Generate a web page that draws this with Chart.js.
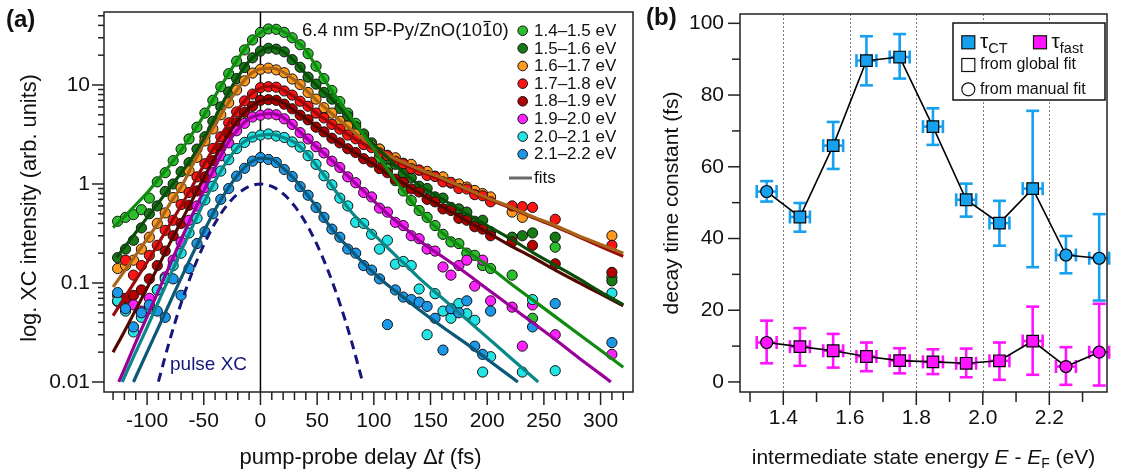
<!DOCTYPE html>
<html><head><meta charset="utf-8">
<script src="https://cdn.jsdelivr.net/npm/chart.js@4.4.1/dist/chart.umd.min.js"></script>
<style>
html,body{margin:0;padding:0;background:#fff;}
#wrap{position:relative;width:1121px;height:474px;overflow:hidden;background:#fff;}
canvas{position:absolute;top:0;}
#ca{left:0;} #cb{left:640px;}
</style></head><body>
<div id="wrap"><canvas id="ca" width="650" height="474"></canvas><canvas id="cb" width="481" height="474"></canvas></div>
<script>
// ================= PANEL (a) DATA =================
const delays = [-126,-119,-112,-105,-98,-91,-84,-77,-70,-63,-56,-49,-42,-35,-28,-21,-14,-7,0,7,14,21,28,35,42,49,56,63,70,77,84,91,98,105,112,119,126,133,140,147,154,161,168,175,182,189,196,203];
const lateDelays = [222,231,240,260,310];
const bandLabels = ['1.4\u20131.5 eV','1.5\u20131.6 eV','1.6\u20131.7 eV','1.7\u20131.8 eV','1.8\u20131.9 eV','1.9\u20132.0 eV','2.0\u20132.1 eV','2.1\u20132.2 eV'];

const data14 = [0.42,0.46,0.49,0.55,0.72,1.05,1.30,1.72,2.25,2.85,3.75,5.2,7.0,9.6,13.0,17.4,22.6,28.5,33.9,36.8,36.5,34.0,30.0,25.5,20.7,15.5,11.6,8.8,6.8,5.2,4.1,3.1,2.4,1.85,1.42,1.08,0.85,0.68,0.54,0.46,0.38,0.31,0.26,0.25,0.20,0.19,0.15,0.14];
const data15 = [0.18,0.22,0.27,0.36,0.50,0.60,0.84,1.0,1.33,1.64,2.25,3.0,4.3,6.0,8.5,11.6,15.0,18.8,22.0,23.5,23.0,21.6,18.0,15.1,12.0,10.2,8.4,7.2,5.8,4.85,3.8,3.2,2.6,2.25,1.80,1.58,1.28,1.15,0.95,0.90,0.74,0.72,0.58,0.56,0.52,0.42,0.43,0.33];
const data16 = [0.14,0.15,0.17,0.22,0.29,0.40,0.51,0.73,0.92,1.36,1.86,2.72,3.6,5.0,6.6,8.9,11.0,13.2,14.4,14.8,14.2,13.3,11.5,10.1,8.4,7.2,5.9,5.2,4.3,3.85,3.2,2.9,2.45,2.25,1.95,1.84,1.62,1.58,1.38,1.34,1.20,1.18,1.02,1.0,0.93,0.86,0.80,0.74];
const data17 = [0.075,0.17,0.12,0.15,0.19,0.24,0.34,0.43,0.62,0.82,1.18,1.60,2.28,3.0,4.15,5.35,6.9,8.1,9.4,9.6,9.5,8.7,7.9,6.85,6.1,5.2,4.65,4.0,3.58,3.12,2.86,2.5,2.33,2.06,1.93,1.70,1.60,1.43,1.38,1.22,1.19,1.05,1.04,0.90,0.89,0.78,0.76,0.66];
const data18 = [0.065,0.07,0.075,0.085,0.11,0.15,0.21,0.30,0.40,0.61,0.85,1.18,1.72,2.3,3.22,4.15,5.3,6.1,7.0,7.1,7.0,6.4,5.75,4.95,4.45,3.75,3.36,2.9,2.6,2.27,2.08,1.80,1.66,1.43,1.30,1.12,1.04,0.89,0.83,0.70,0.66,0.56,0.54,0.45,0.43,0.37,0.35,0.30];
const data19 = [null,0.055,0.06,0.052,0.07,0.085,0.115,0.17,0.26,0.43,0.60,0.92,1.30,1.93,2.6,3.45,4.1,4.75,4.95,5.1,5.0,4.55,4.0,3.3,2.85,2.38,2.06,1.70,1.47,1.18,1.03,0.82,0.74,0.57,0.52,0.41,0.38,0.30,0.28,0.22,0.21,0.145,0.12,0.15,0.17,0.093,0.17,0.066];
const data20 = [0.066,0.052,0.032,0.045,0.055,0.085,0.11,0.15,0.20,0.32,0.45,0.69,0.95,1.35,1.76,2.28,2.63,2.98,3.12,3.2,3.05,2.95,2.66,2.36,1.93,1.58,1.21,0.98,0.72,0.60,0.41,0.40,0.31,0.22,0.27,0.155,0.165,0.15,0.087,0.03,0.078,0.052,0.044,0.062,0.049,0.042,0.0126,0.018];
const data21 = [0.08,0.055,0.036,0.05,0.06,0.052,0.045,0.11,0.075,0.14,0.25,0.33,0.50,0.70,0.90,1.20,1.44,1.70,1.85,1.77,1.65,1.40,1.19,0.94,0.77,0.58,0.46,0.35,0.29,0.22,0.20,0.15,0.135,0.11,0.038,0.085,0.072,0.068,0.064,0.058,0.044,0.021,0.055,0.050,0.066,0.023,0.019,0.052];

const late14 = [0.12,null,0.044,0.23,0.114];
const late15 = [0.29,0.30,0.32,0.29,0.105];
const late16 = [0.52,0.46,null,null,0.30];
const late17 = [0.60,0.59,0.58,0.44,0.24];
const late18 = [0.26,null,0.24,0.156,0.128];
const late19 = [0.057,0.023,0.060,0.030,0.019];
const late20 = [null,0.0126,0.068,0.013,0.079];
const late21 = [null,null,0.036,0.062,0.025];

const fit14 = [[-130,0.363],[-120,0.468],[-110,0.617],[-100,0.813],[-90,1.12],[-80,1.55],[-70,2.19],[-60,3.24],[-50,4.90],[-40,7.76],[-30,12.0],[-20,18.2],[-10,26.3],[0,33.9],[10,38.0],[20,34.7],[30,28.8],[40,22.4],[50,14.8],[60,9.77],[70,6.76],[80,4.68],[90,3.24],[100,2.24],[110,1.51],[120,1.05],[130,0.741],[140,0.537],[160,0.324],[180,0.219],[200,0.151],[220,0.100],[240,0.0676],[260,0.0457],[280,0.0309],[300,0.0209],[320,0.0141]];
const fit15 = [[-127,0.182],[-120,0.229],[-110,0.324],[-100,0.457],[-90,0.646],[-80,0.912],[-70,1.29],[-60,1.86],[-50,2.88],[-40,4.68],[-30,7.76],[-20,12.0],[-10,17.4],[0,21.9],[10,24.0],[20,21.9],[30,17.4],[40,12.9],[50,9.77],[60,7.76],[70,5.89],[80,4.37],[90,3.24],[100,2.51],[110,1.95],[120,1.51],[130,1.20],[140,0.977],[160,0.708],[180,0.513],[200,0.380],[220,0.282],[240,0.204],[260,0.151],[280,0.112],[300,0.0813],[320,0.0603]];
const fit16 = [[-130,0.0912],[-120,0.132],[-110,0.191],[-100,0.278],[-90,0.407],[-80,0.631],[-70,0.933],[-60,1.55],[-50,2.57],[-40,3.98],[-30,6.17],[-20,9.12],[-10,12.6],[0,14.5],[10,14.8],[20,13.5],[30,11.2],[40,8.91],[50,6.92],[60,5.50],[70,4.37],[80,3.55],[90,2.88],[100,2.40],[110,2.04],[120,1.78],[130,1.58],[140,1.41],[160,1.15],[180,0.912],[200,0.724],[220,0.589],[240,0.468],[260,0.380],[280,0.302],[300,0.245],[320,0.200]];
const fit17 = [[-130,0.0468],[-120,0.0708],[-110,0.107],[-100,0.162],[-90,0.251],[-80,0.389],[-70,0.603],[-60,0.955],[-50,1.55],[-40,2.45],[-30,3.80],[-20,5.62],[-10,7.76],[0,9.33],[10,9.77],[20,8.91],[30,7.59],[40,6.31],[50,5.13],[60,4.27],[70,3.55],[80,3.02],[90,2.57],[100,2.24],[110,1.95],[120,1.70],[130,1.51],[140,1.35],[160,1.10],[180,0.891],[200,0.708],[220,0.575],[240,0.457],[260,0.372],[280,0.295],[300,0.234],[320,0.186]];
const fit18 = [[-130,0.0200],[-120,0.0324],[-110,0.0537],[-100,0.0891],[-90,0.148],[-80,0.251],[-70,0.417],[-60,0.692],[-50,1.15],[-40,1.86],[-30,2.95],[-20,4.37],[-10,5.89],[0,6.92],[10,7.24],[20,6.61],[30,5.50],[40,4.57],[50,3.72],[60,3.09],[70,2.57],[80,2.19],[90,1.86],[100,1.58],[110,1.32],[120,1.12],[130,0.955],[140,0.813],[160,0.589],[180,0.437],[200,0.324],[220,0.240],[240,0.182],[260,0.135],[280,0.102],[300,0.0776],[320,0.0589]];
const fit19 = [[-125,0.0100],[-120,0.0135],[-110,0.0251],[-100,0.0457],[-90,0.0832],[-80,0.151],[-70,0.275],[-60,0.490],[-50,0.851],[-40,1.48],[-30,2.45],[-20,3.55],[-10,4.57],[0,5.01],[10,5.13],[20,4.68],[30,3.80],[40,2.95],[50,2.34],[60,1.86],[70,1.45],[80,1.12],[90,0.871],[100,0.676],[110,0.525],[120,0.417],[130,0.339],[140,0.269],[160,0.186],[180,0.129],[200,0.0871],[220,0.0589],[240,0.0398],[260,0.0269],[280,0.0178],[300,0.0120],[309,0.0100]];
const fit20 = [[-122,0.0100],[-110,0.0200],[-100,0.0355],[-90,0.0646],[-80,0.117],[-70,0.209],[-60,0.372],[-50,0.646],[-40,1.07],[-30,1.66],[-20,2.34],[-10,2.88],[0,3.10],[10,3.17],[20,2.95],[30,2.63],[40,2.09],[50,1.51],[60,1.07],[70,0.741],[80,0.525],[90,0.398],[100,0.309],[110,0.240],[120,0.186],[130,0.145],[140,0.112],[160,0.0708],[180,0.0447],[200,0.0282],[220,0.0178],[245,0.0100]];
const fit21 = [[-112,0.0100],[-100,0.0200],[-90,0.0355],[-80,0.0631],[-70,0.112],[-60,0.195],[-50,0.331],[-40,0.550],[-30,0.851],[-20,1.23],[-10,1.62],[0,1.82],[10,1.78],[20,1.45],[30,1.12],[40,0.813],[50,0.575],[60,0.389],[70,0.282],[80,0.214],[90,0.162],[100,0.126],[110,0.100],[120,0.0813],[130,0.0661],[140,0.0537],[160,0.0363],[180,0.0251],[200,0.0170],[227,0.0100]];

const pulseT = [-90,-80,-70,-60,-50,-40,-30,-20,-10,0,10,20,30,40,50,60,70,80,90];
const pulseV = [0.0101,0.0265,0.0622,0.130,0.242,0.404,0.600,0.797,0.945,1.0,0.945,0.797,0.600,0.404,0.242,0.130,0.0622,0.0265,0.0101];

const xTicksA = [-100,-50,0,50,100,150,200,250,300];
const xTickLabelsA = ['-100','-50','0','50','100','150','200','250','300'];
const yTicksA = [0.01,0.1,1,10];
const yTickLabelsA = ['0.01','0.1','1','10'];

// ================= PANEL (b) DATA =================
const energies = [1.35,1.45,1.55,1.65,1.75,1.85,1.95,2.05,2.15,2.25,2.35];
const fitKind = ['manual','global','global','global','global','global','global','global','global','manual','manual'];
const tauCT     = [53.1,46.0,65.9,89.6,90.6,71.2,50.8,44.3,53.9,35.4,34.5];
const tauCTLow  = [50.3,41.9,59.4,82.7,84.6,66.1,46.1,38.0,32.0,30.3,22.7];
const tauCTHigh = [56.0,49.9,72.5,96.4,97.0,76.3,55.3,50.5,75.6,40.7,46.8];
const tauFast     = [11.0,9.85,8.7,7.1,5.95,5.6,5.2,5.9,11.4,4.3,8.3];
const tauFastLow  = [5.2,4.5,4.0,3.0,2.4,2.2,1.3,0.6,2.0,-0.8,-1.0];
const tauFastHigh = [17.1,15.0,13.4,11.0,9.4,9.1,9.3,11.0,21.0,9.7,21.8];
const energyHalfWidth = 0.03;
const xTicksB = [1.4,1.6,1.8,2.0,2.2];
const xTickLabelsB = ['1.4','1.6','1.8','2.0','2.2'];
const yTicksB = [0,20,40,60,80,100];
const yTickLabelsB = ['0','20','40','60','80','100'];

// ================= STYLE =================
const F = "'Liberation Sans', Arial, Helvetica, sans-serif";
const dataColors = ['#2cbf2c','#177a17','#ff9a1e','#ff1414','#b40000','#ff22ff','#22e4e4','#1c98e8'];
const fitColors  = ['#118a11','#0a4d0a','#a86418','#9a0a0a','#520800','#990099','#0a8888','#0b5878'];
const ctColor = '#16a0ee', fastColor = '#ff14ff';

const dataSets = [data14,data15,data16,data17,data18,data19,data20,data21];
const lateSets = [late14,late15,late16,late17,late18,late19,late20,late21];
const fitSets  = [fit14,fit15,fit16,fit17,fit18,fit19,fit20,fit21];

function richText(ctx, parts, x, y, align){
  let w = 0;
  parts.forEach(p => { ctx.font = p[1]; w += ctx.measureText(p[0]).width; });
  let cx = align === 'center' ? x - w/2 : x;
  ctx.textAlign = 'left'; ctx.textBaseline = 'alphabetic';
  parts.forEach(p => { ctx.font = p[1]; ctx.fillText(p[0], cx, y + (p[2]||0)); cx += ctx.measureText(p[0]).width; });
}
function seg(ctx,x1,y1,x2,y2){ ctx.beginPath(); ctx.moveTo(x1,y1); ctx.lineTo(x2,y2); ctx.stroke(); }
function noPad(s){ s.paddingTop = 0; s.paddingBottom = 0; s.paddingLeft = 0; s.paddingRight = 0; }

// ================= CHART (a) =================
const datasetsA = [];
fitSets.forEach((f,i) => datasetsA.push({
  data: f.map(p => ({x:p[0], y:p[1]})), borderColor: fitColors[i], borderWidth: 3.2,
  pointRadius: 0, cubicInterpolationMode: 'monotone', fill: false, order: 1
}));
dataSets.forEach((d,i) => {
  const pts = [];
  delays.forEach((t,j) => { if (d[j] != null) pts.push({x:t, y:d[j]}); });
  lateDelays.forEach((t,j) => { if (lateSets[i][j] != null) pts.push({x:t, y:lateSets[i][j]}); });
  datasetsA.push({data: pts, showLine: false, pointRadius: 5.1, pointBorderWidth: 1,
    pointBorderColor: '#111', pointBackgroundColor: dataColors[i], order: 20 - i});
});
datasetsA.push({data: pulseT.map((t,j) => ({x:t, y:pulseV[j]})), borderColor: '#15157a', borderWidth: 3,
  borderDash: [9,6], pointRadius: 0, cubicInterpolationMode: 'monotone', fill: false, order: 0});

const decoA = {
  id: 'decoA',
  beforeDatasetsDraw(chart){
    const {ctx, chartArea:a, scales:{x}} = chart;
    const px = x.getPixelForValue(0);
    ctx.save(); ctx.strokeStyle = '#000'; ctx.lineWidth = 1.5; seg(ctx, px, a.top, px, a.bottom); ctx.restore();
  },
  afterDraw(chart){
    const {ctx, chartArea:a, scales:{x,y}} = chart;
    ctx.save();
    ctx.strokeStyle = '#222'; ctx.lineWidth = 1.5;
    ctx.strokeRect(a.left, a.top, a.right - a.left, a.bottom - a.top);
    for (let t = -130; t <= 320; t += 10) {
      const px = x.getPixelForValue(t);
      seg(ctx, px, a.bottom, px, a.bottom + (t % 50 === 0 ? 13 : 8));
    }
    [0.01,0.1,1,10].forEach(d => { for (let m = 1; m <= 9; m++) {
      const v = d*m; if (v > y.max) break;
      const py = y.getPixelForValue(v);
      seg(ctx, a.left, py, a.left - (m === 1 ? 12 : 6), py);
    }});
    ctx.fillStyle = '#111';
    ctx.font = "bold 24px " + F; ctx.textAlign = 'left'; ctx.textBaseline = 'middle';
    ctx.fillText('(a)', 6, 20);
    richText(ctx, [['pump-probe delay \u0394', '22px ' + F], ['t', 'italic 22px ' + F], [' (fs)', '22px ' + F]], (a.left + a.right)/2 - 8, 464, 'center');
    ctx.save(); ctx.translate(30, 208); ctx.rotate(-Math.PI/2);
    ctx.font = '21.8px ' + F; ctx.textAlign = 'center'; ctx.textBaseline = 'middle';
    ctx.fillText('log. XC intensity (arb. units)', 0, 0); ctx.restore();
    ctx.font = '18.5px ' + F; ctx.textAlign = 'left'; ctx.textBaseline = 'alphabetic';
    const t1 = '6.4 nm 5P-Py/ZnO(10', t2 = '1', t3 = '0)';
    let cx = 302;
    ctx.fillText(t1, cx, 36); cx += ctx.measureText(t1).width;
    const w2 = ctx.measureText(t2).width;
    ctx.fillText(t2, cx, 36);
    ctx.lineWidth = 1.2; ctx.strokeStyle = '#111'; seg(ctx, cx + 1.5, 21.5, cx + w2 - 1.5, 21.5);
    cx += w2; ctx.fillText(t3, cx, 36);
    ctx.font = '17px ' + F; ctx.textBaseline = 'middle';
    bandLabels.forEach((lab, i) => {
      const ly = 30.7 + i*17.65;
      ctx.beginPath(); ctx.arc(522.7, ly, 4.8, 0, 2*Math.PI);
      ctx.fillStyle = dataColors[i]; ctx.fill(); ctx.lineWidth = 1; ctx.strokeStyle = '#111'; ctx.stroke();
      ctx.fillStyle = '#111'; ctx.fillText(lab, 534, ly + 0.5);
    });
    ctx.strokeStyle = '#6a6a6a'; ctx.lineWidth = 3; seg(ctx, 509, 178, 532, 178);
    ctx.fillStyle = '#111'; ctx.fillText('fits', 534, 178.5);
    ctx.font = '19px ' + F; ctx.fillStyle = '#15157a'; ctx.fillText('pulse XC', 170, 365);
    ctx.restore();
  }
};

new Chart(document.getElementById('ca'), {
  type: 'line',
  data: {datasets: datasetsA},
  options: {
    responsive: false, animation: false, devicePixelRatio: 1,
    layout: {padding: {left: 0, right: 17, top: 12, bottom: 0}},
    plugins: {legend: {display: false}, tooltip: {enabled: false}},
    scales: {
      x: {type: 'linear', position: 'bottom', min: -138, max: 328.6,
        grid: {display: false, drawTicks: false}, border: {display: false},
        ticks: {font: {family: F, size: 21}, color: '#111', padding: 17, maxRotation: 0, autoSkip: false,
          callback: (v, i) => xTickLabelsA[i]},
        afterBuildTicks: s => { s.ticks = xTicksA.map(v => ({value: v})); },
        afterFit: s => { s.height = 82; noPad(s); }},
      y: {type: 'logarithmic', min: 0.00792, max: 54.6,
        grid: {display: false, drawTicks: false}, border: {display: false},
        ticks: {font: {family: F, size: 21}, color: '#111', padding: 14, autoSkip: false,
          callback: (v, i) => yTickLabelsA[i]},
        afterBuildTicks: s => { s.ticks = yTicksA.map(v => ({value: v})); },
        afterFit: s => { s.width = 104; noPad(s); }}
    }
  },
  plugins: [decoA]
});

// ================= CHART (b) =================
const decoB = {
  id: 'decoB',
  beforeDatasetsDraw(chart){
    const {ctx, chartArea:a, scales:{x,y}} = chart;
    ctx.save();
    ctx.strokeStyle = '#7a7a7a'; ctx.lineWidth = 1; ctx.setLineDash([2,2]);
    xTicksB.forEach(v => { const px = Math.round(x.getPixelForValue(v)) + 0.5; seg(ctx, px, a.top, px, a.bottom); });
    ctx.setLineDash([]);
    const bars = [[tauFast, tauFastLow, tauFastHigh, fastColor], [tauCT, tauCTLow, tauCTHigh, ctColor]];
    bars.forEach(([val, lo, hi, col]) => {
      ctx.strokeStyle = col; ctx.lineWidth = 2.6;
      energies.forEach((e, i) => {
        const px = x.getPixelForValue(e), py = y.getPixelForValue(val[i]);
        const pl = y.getPixelForValue(lo[i]), ph = y.getPixelForValue(hi[i]);
        seg(ctx, px, pl, px, ph); seg(ctx, px - 6.5, pl, px + 6.5, pl); seg(ctx, px - 6.5, ph, px + 6.5, ph);
        const xl = x.getPixelForValue(e - energyHalfWidth), xr = x.getPixelForValue(e + energyHalfWidth);
        seg(ctx, xl, py, xr, py); seg(ctx, xl, py - 6.5, xl, py + 6.5); seg(ctx, xr, py - 6.5, xr, py + 6.5);
      });
    });
    ctx.restore();
  },
  afterDraw(chart){
    const {ctx, chartArea:a, scales:{x,y}} = chart;
    ctx.save();
    ctx.strokeStyle = '#222'; ctx.lineWidth = 1.5;
    ctx.strokeRect(a.left, a.top, a.right - a.left, a.bottom - a.top);
    for (let k = 13; k <= 23; k++) {
      const px = x.getPixelForValue(k/10);
      seg(ctx, px, a.bottom, px, a.bottom + (k % 2 === 0 ? 13 : 10));
    }
    for (let v = 0; v <= 100; v += 10) {
      const py = y.getPixelForValue(v);
      seg(ctx, a.left, py, a.left - (v % 20 === 0 ? 12 : 8), py);
    }
    ctx.fillStyle = '#111';
    ctx.font = "bold 24px " + F; ctx.textAlign = 'left'; ctx.textBaseline = 'middle';
    ctx.fillText('(b)', 6, 18);
    richText(ctx, [['intermediate state energy ', '21px ' + F], ['E', 'italic 21px ' + F], [' - ', '21px ' + F],
      ['E', 'italic 21px ' + F], ['F', '14px ' + F, 4], [' (eV)', '21px ' + F]], (a.left + a.right)/2, 464, 'center');
    ctx.save(); ctx.translate(32, 203); ctx.rotate(-Math.PI/2);
    ctx.font = '21px ' + F; ctx.textAlign = 'center'; ctx.textBaseline = 'middle';
    ctx.fillText('decay time constant (fs)', 0, 0); ctx.restore();
    const lx = 313, ly = 23, lw = 152, lh = 77;
    ctx.fillStyle = '#fff'; ctx.fillRect(lx, ly, lw, lh);
    ctx.strokeStyle = '#111'; ctx.lineWidth = 1.5; ctx.strokeRect(lx, ly, lw, lh);
    ctx.lineWidth = 1.2;
    const sq = (cx, cy, col) => { ctx.fillStyle = col; ctx.fillRect(cx - 6.5, cy - 6.5, 13, 13); ctx.strokeStyle = '#111'; ctx.strokeRect(cx - 6.5, cy - 6.5, 13, 13); };
    sq(328.3, 42.3, ctColor); sq(400, 42.3, fastColor); sq(328.3, 65, '#fff');
    ctx.beginPath(); ctx.arc(328.3, 89.3, 6.5, 0, 2*Math.PI); ctx.fillStyle = '#fff'; ctx.fill(); ctx.stroke();
    ctx.fillStyle = '#111';
    richText(ctx, [['\u03c4', '21px ' + F], ['CT', '14.5px ' + F, 5]], 340, 48, 'left');
    richText(ctx, [['\u03c4', '21px ' + F], ['fast', '14.5px ' + F, 5]], 411.5, 48, 'left');
    ctx.font = '16px ' + F; ctx.textBaseline = 'middle'; ctx.textAlign = 'left';
    ctx.fillText('from global fit', 340, 65);
    ctx.fillText('from manual fit', 340, 89.5);
    ctx.restore();
  }
};

const styleOf = k => k === 'manual' ? 'circle' : 'rect';
const radOf = k => k === 'manual' ? 6 : 8.2;
new Chart(document.getElementById('cb'), {
  type: 'line',
  data: {datasets: [
    {data: energies.map((e,i) => ({x:e, y:tauFast[i]})), borderColor: '#000', borderWidth: 1.6, tension: 0,
      pointStyle: fitKind.map(styleOf), pointRadius: fitKind.map(radOf), pointBackgroundColor: fastColor,
      pointBorderColor: '#000', pointBorderWidth: 1.2, fill: false},
    {data: energies.map((e,i) => ({x:e, y:tauCT[i]})), borderColor: '#000', borderWidth: 1.6, tension: 0,
      pointStyle: fitKind.map(styleOf), pointRadius: fitKind.map(radOf), pointBackgroundColor: ctColor,
      pointBorderColor: '#000', pointBorderWidth: 1.2, fill: false}
  ]},
  options: {
    responsive: false, animation: false, devicePixelRatio: 1,
    layout: {padding: {left: 0, right: 14, top: 14, bottom: 0}},
    plugins: {legend: {display: false}, tooltip: {enabled: false}},
    scales: {
      x: {type: 'linear', min: 1.2698, max: 2.3735,
        grid: {display: false, drawTicks: false}, border: {display: false},
        ticks: {font: {family: F, size: 21}, color: '#111', padding: 14, maxRotation: 0, autoSkip: false,
          callback: (v, i) => xTickLabelsB[i]},
        afterBuildTicks: s => { s.ticks = xTicksB.map(v => ({value: v})); },
        afterFit: s => { s.height = 82; noPad(s); }},
      y: {type: 'linear', min: -2.8, max: 102.6,
        grid: {display: false, drawTicks: false}, border: {display: false},
        ticks: {font: {family: F, size: 21}, color: '#111', padding: 16, autoSkip: false,
          callback: (v, i) => yTickLabelsB[i]},
        afterBuildTicks: s => { s.ticks = yTicksB.map(v => ({value: v})); },
        afterFit: s => { s.width = 100; noPad(s); }}
    }
  },
  plugins: [decoB]
});
</script>
</body></html>
